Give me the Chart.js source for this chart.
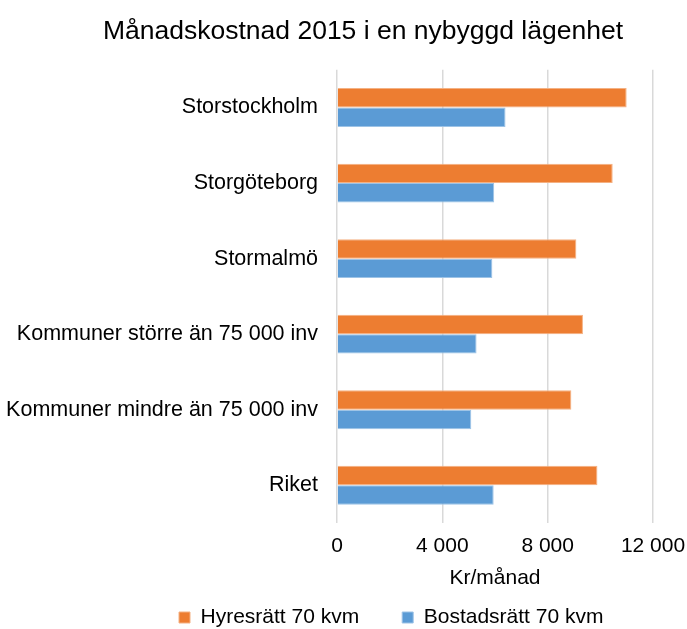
<!DOCTYPE html>
<html lang="sv">
  <head>
    <meta charset="UTF-8" />
    <script src="https://cdn.jsdelivr.net/npm/chart.js@4.4.0/dist/chart.umd.min.js"></script>
    <title>Månadskostnad 2015</title>
    <style>
      body {
        margin: 0;
        padding: 0;
        background: #fff;
      }
      .container {
        width: 687px;
        height: 629px;
      }
    </style>
  </head>
  <body>
    <div class="container">
      <canvas id="chart"></canvas>
    </div>
    <script>
      const categories = [
        'Storstockholm',
        'Storgöteborg',
        'Stormalmö',
        'Kommuner större än 75 000 inv',
        'Kommuner mindre än 75 000 inv',
        'Riket',
      ]
      const hyresratt = [11000, 10470, 9090, 9340, 8900, 9890]
      const bostadsratt = [6400, 5970, 5900, 5300, 5100, 5950]
      const xTicks = [0, 4000, 8000, 12000]

      const format = (num) => String(num).replace(/\B(?=(\d{3})+(?!\d))/g, ' ')

      Chart.defaults.font.family = '"Liberation Sans", Arial, sans-serif'
      Chart.defaults.color = '#000'

      // title and legend sit a bit right of the canvas middle in the original
      const nudge = {
        id: 'nudge',
        afterLayout(chart) {
          chart.titleBlock.left += 39
          chart.legend.left = 136
          chart.legend.top = 564
        },
      }

      const ctx = document.getElementById('chart').getContext('2d')
      new Chart(ctx, {
        type: 'bar',
        data: {
          labels: categories,
          datasets: [
            {
              label: 'Hyresrätt 70 kvm',
              data: hyresratt,
              backgroundColor: '#ED7D31',
              borderColor: '#F4B183',
              borderWidth: 1,
              categoryPercentage: 0.515,
              barPercentage: 1,
            },
            {
              label: 'Bostadsrätt 70 kvm',
              data: bostadsratt,
              backgroundColor: '#5B9BD5',
              borderColor: '#9DC3E6',
              borderWidth: 1,
              categoryPercentage: 0.515,
              barPercentage: 1,
            },
          ],
        },
        plugins: [nudge],
        options: {
          indexAxis: 'y',
          responsive: true,
          maintainAspectRatio: false,
          animation: false,
          layout: {
            padding: { left: 0, right: 0, top: 16, bottom: 0 },
          },
          plugins: {
            title: {
              display: true,
              text: 'Månadskostnad 2015 i en nybyggd lägenhet',
              font: { size: 26.5, weight: 'normal' },
              color: '#000',
              padding: { top: 0, bottom: 22 },
            },
            legend: {
              position: 'bottom',
              align: 'start',
              maxHeight: 31,
              labels: {
                boxWidth: 11,
                boxHeight: 11,
                font: { size: 21 },
                padding: 43,
              },
            },
            tooltip: { enabled: false },
          },
          scales: {
            x: {
              min: 0,
              max: 12000,
              afterBuildTicks: (axis) => {
                axis.ticks = xTicks.map((v) => ({ value: v }))
              },
              afterFit: (axis) => {
                axis.height = 75
                axis.paddingRight = 34
              },
              ticks: {
                font: { size: 21 },
                padding: 11,
                callback: (v) => format(v),
              },
              grid: {
                color: '#d9d9d9',
                lineWidth: 1.5,
                drawTicks: false,
              },
              border: { display: false },
              title: {
                display: true,
                text: 'Kr/månad',
                font: { size: 21 },
                padding: { top: 0, bottom: 7 },
              },
            },
            y: {
              afterFit: (axis) => {
                axis.width = 337
              },
              ticks: {
                font: { size: 21.5 },
                padding: 19,
              },
              grid: { display: false, drawTicks: false },
              border: { display: false },
            },
          },
        },
      })
    </script>
  </body>
</html>
